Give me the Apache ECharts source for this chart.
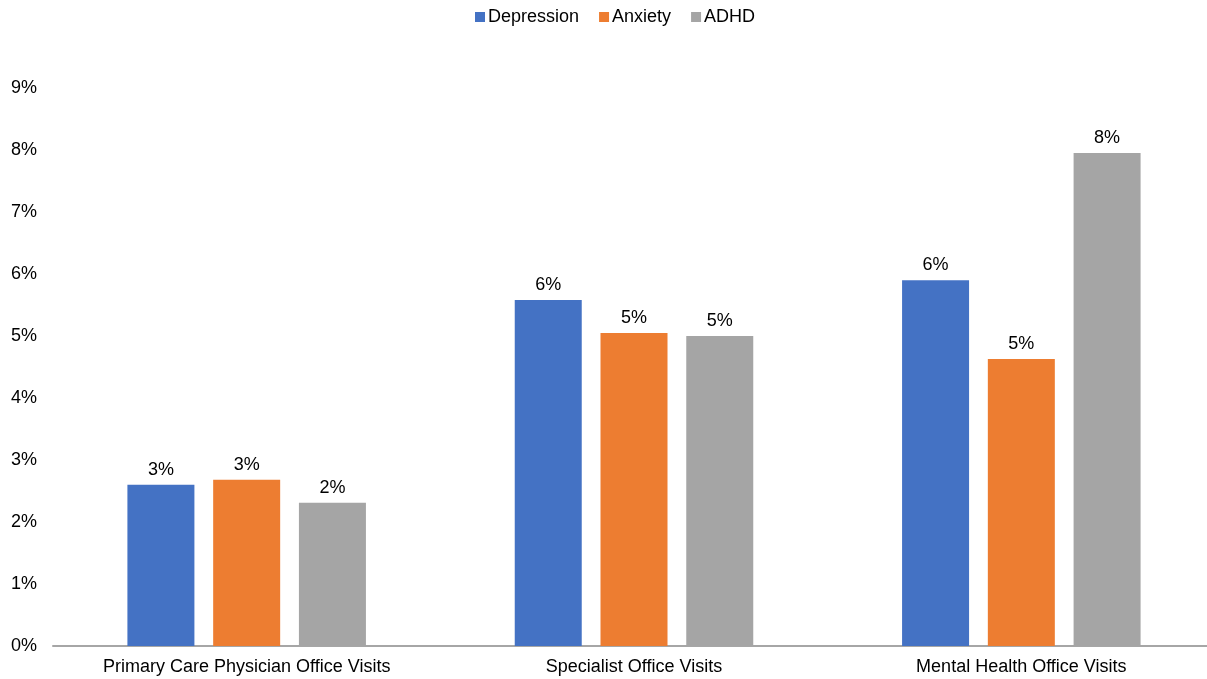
<!DOCTYPE html>
<html><head><meta charset="utf-8">
<script src="https://cdn.jsdelivr.net/npm/echarts@6/dist/echarts.min.js"></script>
<style>html,body{margin:0;padding:0;background:#fff}#c{width:1207px;height:679px}</style>
</head><body><div id="c"></div>
<script>
const categories = ["Primary Care Physician Office Visits", "Specialist Office Visits", "Mental Health Office Visits"];
const depression = [2.6, 5.58, 5.9];
const anxiety = [2.68, 5.05, 4.63];
const adhd = [2.31, 5.0, 7.95];
const seriesNames = ["Depression", "Anxiety", "ADHD"];
const colors = ["#4472C4", "#ED7D31", "#A5A5A5"];

const font = "Liberation Sans, Arial, sans-serif";
const chart = echarts.init(document.getElementById('c'));
const mk = (name, data, color) => ({
  name, type: 'bar', data, barWidth: 67, barGap: '28%',
  itemStyle: { color },
  label: { show: true, position: 'top', distance: 6, color: '#000', fontSize: 18, fontFamily: font,
    formatter: p => Math.round(p.value) + '%' }
});
chart.setOption({
  animation: false,
  color: colors,
  legend: { top: 3, left: 470, itemWidth: 10, itemHeight: 10, itemGap: 20, icon: 'rect',
    textStyle: { fontSize: 18, fontFamily: font, color: '#000', padding: [0,0,0,-2] },
    data: seriesNames },
  grid: { left: 53, width: 1162, top: 88, bottom: 33, containLabel: false, outerBoundsMode: 'none' },
  xAxis: { type: 'category', data: categories,
    axisLine: { lineStyle: { color: '#A6A6A6', width: 2 } }, axisTick: { show: false },
    axisLabel: { fontSize: 18, fontFamily: font, color: '#000', margin: 12 } },
  yAxis: { type: 'value', min: 0, max: 9, interval: 1,
    splitLine: { show: false }, axisLine: { show: false }, axisTick: { show: false },
    axisLabel: { fontSize: 18, fontFamily: font, color: '#000', margin: 16, formatter: v => v + '%' } },
  series: [mk(seriesNames[0], depression, colors[0]), mk(seriesNames[1], anxiety, colors[1]), mk(seriesNames[2], adhd, colors[2])]
});
</script></body></html>
